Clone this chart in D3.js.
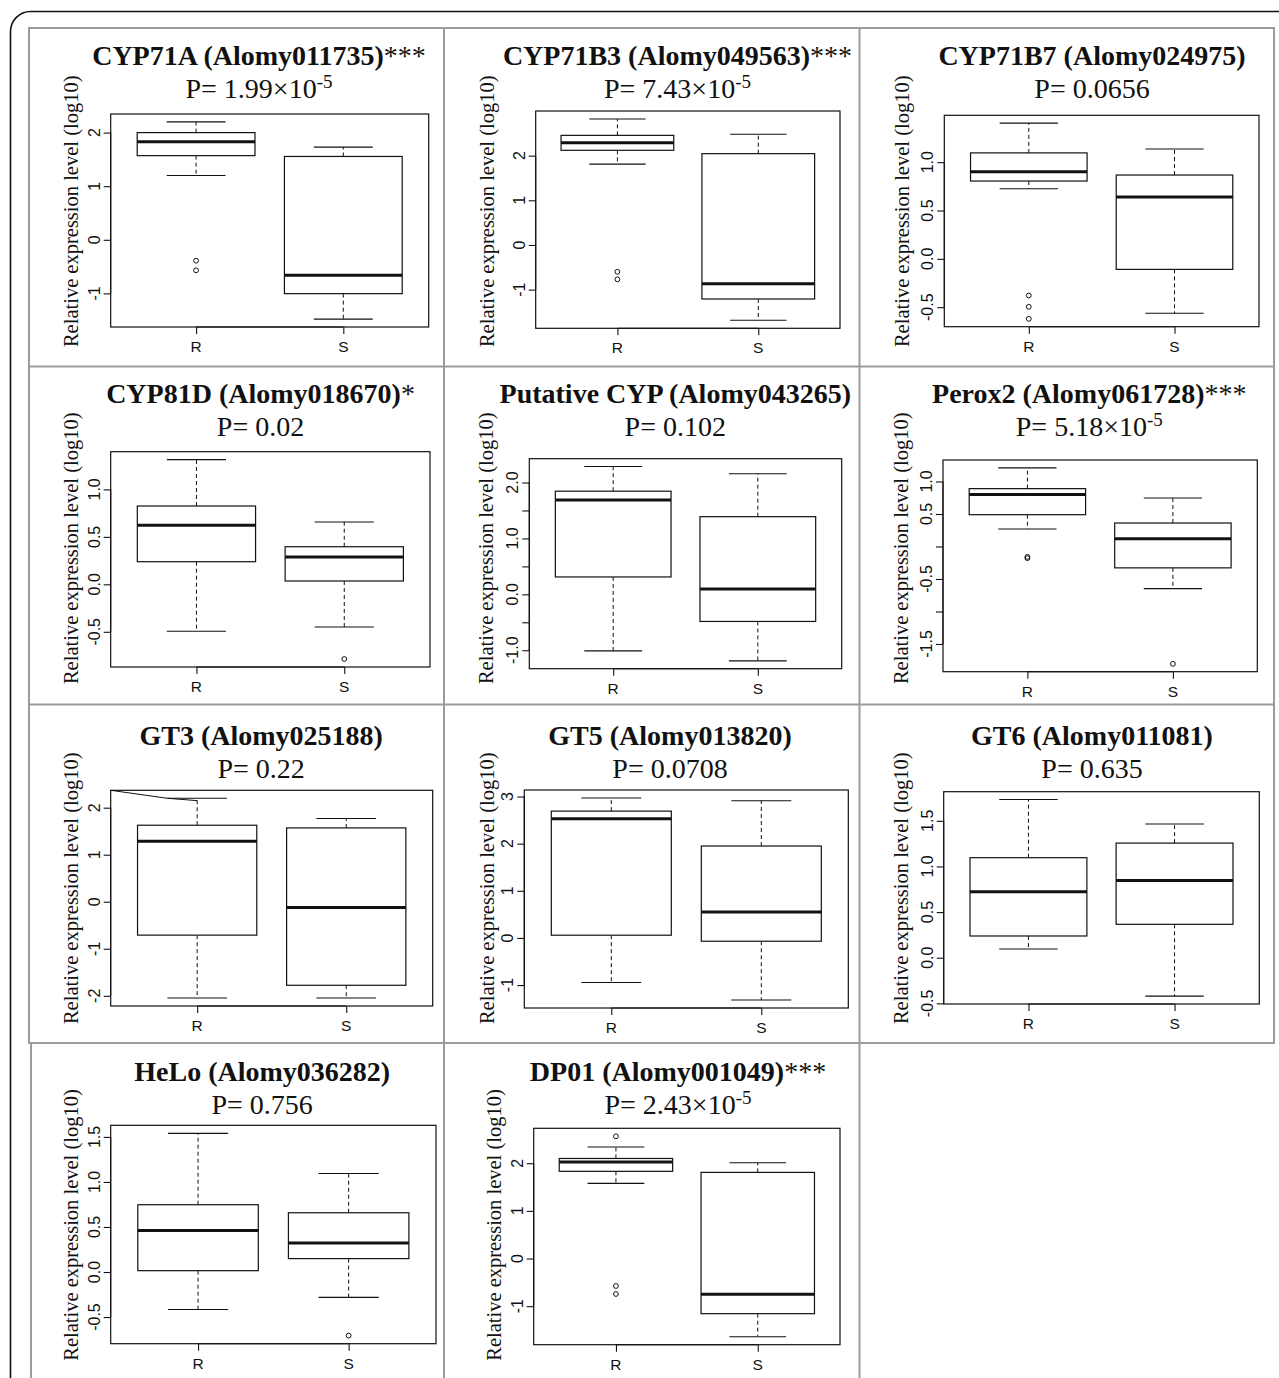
<!DOCTYPE html>
<html>
<head>
<meta charset="utf-8">
<script src="https://cdn.jsdelivr.net/npm/d3@7"></script>
<style>
  body { margin: 0; background: #fff; }
  svg { display: block; }
</style>
</head>
<body>
<svg id="fig" width="1279" height="1378"></svg>
<script>
// ---- data (log10 relative expression) ----
var genes = ["CYP71A (Alomy011735)", "CYP71B3 (Alomy049563)", "CYP71B7 (Alomy024975)",
             "CYP81D (Alomy018670)", "Putative CYP (Alomy043265)", "Perox2 (Alomy061728)",
             "GT3 (Alomy025188)", "GT5 (Alomy013820)", "GT6 (Alomy011081)",
             "HeLo (Alomy036282)", "DP01 (Alomy001049)"];
var stars = ["***", "***", "", "*", "", "***", "", "", "", "", "***"];
var pBase = ["1.99×10", "7.43×10", "0.0656", "0.02", "0.102", "5.18×10",
             "0.22", "0.0708", "0.635", "0.756", "2.43×10"];
var pExp  = ["-5", "-5", "", "", "", "-5", "", "", "", "", "-5"];
var groups = ["R", "S"];

// box stats: [lower whisker, Q1, median, Q3, upper whisker]
var rBox = [
  [1.20, 1.57, 1.83, 2.00, 2.20],
  [1.81, 2.12, 2.29, 2.455, 2.82],
  [0.725, 0.805, 0.90, 1.096, 1.404],
  [-0.495, 0.238, 0.622, 0.825, 1.313],
  [-1.011, 0.311, 1.689, 1.845, 2.287],
  [0.268, 0.489, 0.798, 0.89, 1.21],
  [-2.047, -0.71, 1.286, 1.627, 2.20],
  [-0.946, 0.058, 2.527, 2.69, 2.967],
  [0.095, 0.238, 0.722, 1.096, 1.733],
  [-0.416, 0.015, 0.462, 0.747, 1.539],
  [1.577, 1.83, 2.025, 2.10, 2.34]
];
var sBox = [
  [-1.48, -1.005, -0.66, 1.555, 1.73],
  [-1.686, -1.21, -0.866, 2.045, 2.48],
  [-0.563, -0.109, 0.639, 0.867, 1.137],
  [-0.45, 0.035, 0.288, 0.396, 0.656],
  [-1.191, -0.485, 0.095, 1.389, 2.156],
  [-0.648, -0.329, 0.119, 0.361, 0.747],
  [-2.047, -1.776, -0.12, 1.57, 1.77],
  [-1.315, -0.07, 0.549, 1.95, 2.91],
  [-0.421, 0.366, 0.846, 1.256, 1.465],
  [-0.282, 0.149, 0.323, 0.658, 1.093],
  [-1.64, -1.157, -0.751, 1.808, 2.01]
];
var rOut = [[-0.39, -0.57], [-0.60, -0.77], [-0.379, -0.496, -0.621], [], [],
            [-0.16, -0.18], [], [], [], [], [2.565, -0.576, -0.744]];
var sOut = [[], [], [], [-0.787], [], [-1.806], [], [], [], [-0.706], []];

// y ticks (all marks) and the ones that got a label
var yTicks = [
  [-1, 0, 1, 2], [-1, 0, 1, 2], [-0.5, 0, 0.5, 1], [-0.5, 0, 0.5, 1],
  [-1, -0.5, 0, 0.5, 1, 1.5, 2], [-1.5, -1, -0.5, 0, 0.5, 1],
  [-2, -1, 0, 1, 2], [-1, 0, 1, 2, 3], [-0.5, 0, 0.5, 1, 1.5],
  [-0.5, 0, 0.5, 1, 1.5], [-1, 0, 1, 2]
];
var yLabels = [
  ["-1", "0", "1", "2"], ["-1", "0", "1", "2"],
  ["-0.5", "0.0", "0.5", "1.0"], ["-0.5", "0.0", "0.5", "1.0"],
  ["-1.0", "0.0", "1.0", "2.0"], ["-1.5", "-0.5", "0.5", "1.0"],
  ["-2", "-1", "0", "1", "2"], ["-1", "0", "1", "2", "3"],
  ["-0.5", "0.0", "0.5", "1.0", "1.5"], ["-0.5", "0.0", "0.5", "1.0", "1.5"],
  ["-1", "0", "1", "2"]
];
// stray segment in the GT3 panel (group units, value)
var gt3Stray = [[0.8, 2.20], [1.0, 2.15]];

// ---- layout ----
var plotBoxes = [ // left, top, right, bottom
  [110.7, 114, 428.7, 327], [535.7, 111, 840, 328.3], [944.3, 115.3, 1259, 326.7],
  [110.7, 451.7, 430, 667], [529.3, 458.7, 841.7, 668.7], [943, 460, 1257.3, 671.7],
  [110.7, 790.3, 432.7, 1006], [524.3, 790, 848.3, 1008], [943.7, 791.7, 1259.3, 1004],
  [110.7, 1125.3, 436, 1343.7], [533.7, 1128.3, 840, 1344.7]
];
var titleX = [259, 677.5, 1092, 260.5, 675.3, 1089.3, 261.2, 670, 1092, 262.2, 678];
var ylabX  = [77.7, 494.3, 909.3, 78, 493.3, 908.3, 78, 494.3, 908.3, 78, 501];
var titleY = [65, 402.7, 744.5, 1080.5];
var subY   = [97.5, 436, 778, 1114];
var ylabY  = [211.3, 548.3, 888.3, 1225];

var serif = "'Liberation Serif', 'Times New Roman', serif";
var sans  = "'Liberation Sans', Arial, Helvetica, sans-serif";

var svg = d3.select("#fig");

// outer rounded frame
svg.append("rect")
   .attr("x", 10.5).attr("y", 11.5)
   .attr("width", 1320).attr("height", 1420)
   .attr("rx", 20)
   .attr("fill", "none").attr("stroke", "#111").attr("stroke-width", 1.6);

// gray table lines
var grid = svg.append("g").attr("stroke", "#9b9b9b").attr("stroke-width", 2);
[28, 366.5, 704.5, 1043].forEach(function(yy){
  grid.append("line").attr("x1", 28).attr("x2", 1275).attr("y1", yy).attr("y2", yy);
});
[[29, 28, 1043], [31, 1043, 1378], [444, 28, 1378], [859.5, 28, 1378], [1274, 28, 1043]]
  .forEach(function(v){
    grid.append("line").attr("x1", v[0]).attr("x2", v[0]).attr("y1", v[1]).attr("y2", v[2]);
  });

genes.forEach(function(name, i){
  var row = Math.floor(i / 3);
  var b = plotBoxes[i];
  var g = svg.append("g");

  var xScale = d3.scaleLinear().domain([0.42, 2.58]).range([b[0], b[2]]);
  var all = rBox[i].concat(sBox[i], rOut[i], sOut[i]);
  var ext = d3.extent(all);
  var pad = 0.04 * (ext[1] - ext[0]);
  var yScale = d3.scaleLinear().domain([ext[0] - pad, ext[1] + pad]).range([b[3], b[1]]);

  // title
  var t = g.append("text")
     .attr("x", titleX[i]).attr("y", titleY[row])
     .attr("text-anchor", "middle")
     .attr("font-family", serif).attr("font-size", 28).attr("fill", "#111");
  t.append("tspan").attr("font-weight", "bold").text(name);
  if (stars[i]) t.append("tspan").attr("font-weight", "normal").text(stars[i]);

  // p value line
  var p = g.append("text")
     .attr("x", titleX[i]).attr("y", subY[row])
     .attr("text-anchor", "middle")
     .attr("font-family", serif).attr("font-size", 28).attr("fill", "#111");
  p.append("tspan").text("P= " + pBase[i]);
  if (pExp[i]) p.append("tspan").attr("font-size", 19).attr("dy", -10).text(pExp[i]);

  // y label
  g.append("text")
   .attr("transform", "translate(" + ylabX[i] + "," + ylabY[row] + ") rotate(-90)")
   .attr("text-anchor", "middle")
   .attr("font-family", serif).attr("font-size", 20.5).attr("fill", "#111")
   .text("Relative expression level (log10)");

  // boxes
  [rBox[i], sBox[i]].forEach(function(s, k){
    var pos = k + 1;
    var bx = g.append("g").attr("stroke", "#111").attr("fill", "none");
    bx.append("line").attr("stroke-dasharray", "4,3").attr("stroke-width", 1)
      .attr("x1", xScale(pos)).attr("x2", xScale(pos))
      .attr("y1", yScale(s[3])).attr("y2", yScale(s[4]));
    bx.append("line").attr("stroke-dasharray", "4,3").attr("stroke-width", 1)
      .attr("x1", xScale(pos)).attr("x2", xScale(pos))
      .attr("y1", yScale(s[1])).attr("y2", yScale(s[0]));
    [s[0], s[4]].forEach(function(v){
      bx.append("line").attr("stroke-width", 1.1)
        .attr("x1", xScale(pos - 0.2)).attr("x2", xScale(pos + 0.2))
        .attr("y1", yScale(v)).attr("y2", yScale(v));
    });
    bx.append("rect").attr("fill", "#fff").attr("stroke-width", 1.2)
      .attr("x", xScale(pos - 0.4)).attr("width", xScale(pos + 0.4) - xScale(pos - 0.4))
      .attr("y", yScale(s[3])).attr("height", yScale(s[1]) - yScale(s[3]));
    bx.append("line").attr("stroke-width", 3)
      .attr("x1", xScale(pos - 0.4)).attr("x2", xScale(pos + 0.4))
      .attr("y1", yScale(s[2])).attr("y2", yScale(s[2]));
  });

  // outliers
  [rOut[i], sOut[i]].forEach(function(o, k){
    g.selectAll(null).data(o).enter().append("circle")
     .attr("cx", xScale(k + 1)).attr("cy", function(d){ return yScale(d); })
     .attr("r", 2.4).attr("fill", "none").attr("stroke", "#111").attr("stroke-width", 1);
  });

  if (i === 6) {
    var pts = [[xScale.domain()[0], yScale.domain()[1]]].concat(gt3Stray);
    g.append("path")
     .attr("d", d3.line().x(function(d){ return xScale(d[0]); }).y(function(d){ return yScale(d[1]); })(pts))
     .attr("fill", "none").attr("stroke", "#111").attr("stroke-width", 1);
  }

  // plot frame
  g.append("rect")
   .attr("x", b[0]).attr("y", b[1]).attr("width", b[2] - b[0]).attr("height", b[3] - b[1])
   .attr("fill", "none").attr("stroke", "#111").attr("stroke-width", 1.2);

  // y axis
  var ya = g.append("g").attr("transform", "translate(" + b[0] + ",0)")
     .call(d3.axisLeft(yScale).tickValues(yTicks[i]).tickSize(7).tickFormat(""));
  ya.select(".domain").remove();
  ya.selectAll("line").attr("stroke", "#111").attr("stroke-width", 1.1);
  var tv = yTicks[i];
  ya.append("line").attr("x1", 0).attr("x2", 0)
    .attr("y1", yScale(tv[0])).attr("y2", yScale(tv[tv.length - 1]))
    .attr("stroke", "#111").attr("stroke-width", 1.1);
  yLabels[i].forEach(function(lab){
    g.append("text")
     .attr("transform", "translate(" + (b[0] - 11) + "," + yScale(+lab) + ") rotate(-90)")
     .attr("text-anchor", "middle")
     .attr("font-family", sans).attr("font-size", 16).attr("fill", "#111")
     .text(lab);
  });

  // x axis
  var xa = g.append("g").attr("transform", "translate(0," + b[3] + ")")
     .call(d3.axisBottom(xScale).tickValues([1, 2]).tickSize(7).tickFormat(""));
  xa.select(".domain").remove();
  xa.selectAll("line").attr("stroke", "#111").attr("stroke-width", 1.1);
  xa.append("line").attr("x1", xScale(1)).attr("x2", xScale(2)).attr("y1", 0).attr("y2", 0)
    .attr("stroke", "#111").attr("stroke-width", 1.1);
  groups.forEach(function(grp, k){
    g.append("text")
     .attr("x", xScale(k + 1)).attr("y", b[3] + 25)
     .attr("text-anchor", "middle")
     .attr("font-family", sans).attr("font-size", 15.5).attr("fill", "#111")
     .text(grp);
  });
});
</script>
</body>
</html>
